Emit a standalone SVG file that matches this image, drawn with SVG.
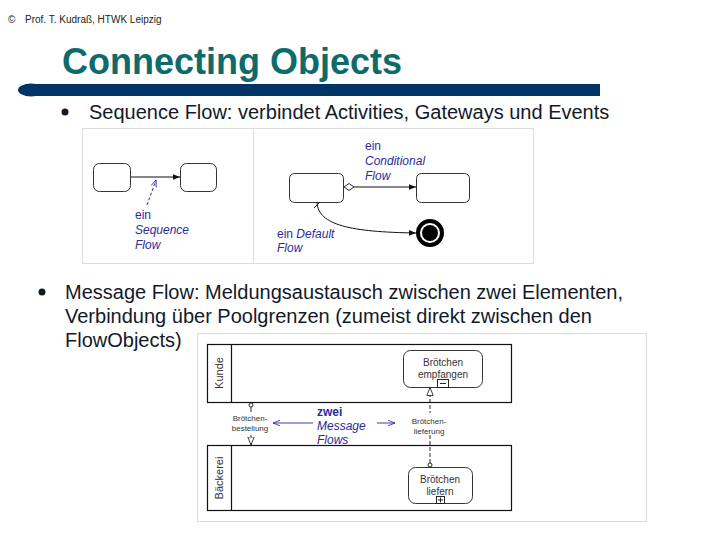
<svg xmlns="http://www.w3.org/2000/svg" width="720" height="540" viewBox="0 0 720 540">
<defs>
<style>
text{font-family:"Liberation Sans",Arial,sans-serif}
.hdr{font-size:10px;fill:#222}
.title{font-size:36px;font-weight:bold;fill:#0e6b6b}
.body{font-size:20px;fill:#111a2a}
.blue{fill:#2b2b9a;font-size:12px}
.it{font-style:italic}
.task{fill:#fff;stroke:#333;stroke-width:1}
.frame{fill:#fff;stroke:#dcdcdc;stroke-width:1}
.pool{fill:none;stroke:#111;stroke-width:1.2}
.small{font-size:8px;fill:#333;text-anchor:middle}
.tt{font-size:10px;fill:#333;text-anchor:middle}
</style>
<marker id="solid" viewBox="0 0 10 10" refX="10" refY="5" markerWidth="7" markerHeight="7" orient="auto" markerUnits="userSpaceOnUse"><path d="M0,1 L10,5 L0,9 z" fill="#111"/></marker>
<marker id="bluehead" viewBox="0 0 10 10" refX="10" refY="5" markerWidth="7" markerHeight="7" orient="auto" markerUnits="userSpaceOnUse"><path d="M0,1 L10,5 L0,9" fill="none" stroke="#2b2b9a" stroke-width="1.2"/></marker>
<marker id="open" viewBox="0 0 10 10" refX="10" refY="5" markerWidth="8" markerHeight="8" orient="auto" markerUnits="userSpaceOnUse"><path d="M0,1 L10,5 L0,9 z" fill="#fff" stroke="#111" stroke-width="1"/></marker>
</defs>
<rect width="720" height="540" fill="#fff"/>

<g id="header">
<text class="hdr" x="8" y="23">©</text>
<text class="hdr" x="25" y="23">Prof. T. Kudraß, HTWK Leipzig</text>
</g>
<g id="title">
<text class="title" x="62" y="74">Connecting Objects</text>
<ellipse cx="31" cy="90" rx="13" ry="6.5" fill="#003366"/>
<rect x="32" y="84" width="568" height="12" fill="#003366"/>
</g>

<g id="bullet1">
<circle cx="65" cy="112" r="3.5" fill="#111a2a"/>
<text class="body" x="89" y="119">Sequence Flow: verbindet Activities, Gateways und Events</text>
</g>

<g id="figure1">
<rect class="frame" x="82.5" y="128.5" width="451" height="135"/>
<line x1="253.5" y1="128.5" x2="253.5" y2="263.5" stroke="#dcdcdc"/>
<g id="sf-task1"><rect class="task" x="93.5" y="163.5" width="37" height="28" rx="6"/></g>
<g id="sf-task2"><rect class="task" x="180.5" y="163.5" width="36" height="28" rx="6"/></g>
<g id="cf-task1"><rect class="task" x="289.5" y="173.5" width="54" height="29" rx="5"/></g>
<g id="cf-task2"><rect class="task" x="416.5" y="173.5" width="53" height="29" rx="5"/></g>
<g id="end-event">
<circle cx="430" cy="233" r="12" fill="#fff" stroke="#000" stroke-width="4"/>
<circle cx="430" cy="233" r="8" fill="#000"/>
</g>
<g id="connectors1">
<line x1="131" y1="177" x2="180" y2="177" stroke="#111" stroke-width="1" marker-end="url(#solid)"/>
<line x1="147" y1="205" x2="156" y2="180" stroke="#2b2b9a" stroke-width="1" stroke-dasharray="3,2" marker-end="url(#bluehead)"/>
<path d="M344,187 l5,-3.5 l5,3.5 l-5,3.5 z" fill="#fff" stroke="#111" stroke-width="0.9"/>
<line x1="354" y1="187" x2="416" y2="187" stroke="#111" stroke-width="1" marker-end="url(#solid)"/>
<path d="M317,203 C319,225 350,232 416,233" fill="none" stroke="#111" stroke-width="1" marker-end="url(#solid)"/>
<line x1="314" y1="208" x2="320" y2="202" stroke="#111" stroke-width="1"/>
</g>
<g id="labels1">
<text class="blue" x="135" y="219">ein</text>
<text class="blue it" x="135" y="234">Sequence</text>
<text class="blue it" x="135" y="249">Flow</text>
<text class="blue" x="365" y="150">ein</text>
<text class="blue it" x="365" y="165">Conditional</text>
<text class="blue it" x="365" y="180">Flow</text>
<text class="blue" x="277" y="238">ein <tspan class="it">Default</tspan></text>
<text class="blue it" x="277" y="252">Flow</text>
</g>
</g>

<g id="bullet2">
<circle cx="42" cy="292" r="3.5" fill="#111a2a"/>
<text class="body" x="65" y="299">Message Flow: Meldungsaustausch zwischen zwei Elementen,</text>
<text class="body" x="65" y="323">Verbindung über Poolgrenzen (zumeist direkt zwischen den</text>
<text class="body" x="65" y="347">FlowObjects)</text>
</g>

<g id="figure2">
<rect class="frame" x="197.5" y="333.5" width="449" height="188"/>
<g id="pool-kunde">
<rect class="pool" x="207.5" y="344.5" width="304" height="58"/>
<line x1="231.5" y1="344.5" x2="231.5" y2="402.5" stroke="#111" stroke-width="1.2"/>
<text transform="translate(223,373) rotate(-90)" font-size="11" fill="#333" text-anchor="middle">Kunde</text>
</g>
<g id="pool-baeckerei">
<rect class="pool" x="207.5" y="445.5" width="304" height="65"/>
<line x1="231.5" y1="445.5" x2="231.5" y2="510.5" stroke="#111" stroke-width="1.2"/>
<text transform="translate(223,478) rotate(-90)" font-size="11" fill="#333" text-anchor="middle">Bäckerei</text>
</g>
<g id="task-empfangen">
<rect class="task" x="403.5" y="350.5" width="79" height="37" rx="7"/>
<text class="tt" x="443" y="366">Brötchen</text>
<text class="tt" x="443" y="378">empfangen</text>
<rect x="437.5" y="379.5" width="11" height="8" fill="#fff" stroke="#111" stroke-width="0.9"/>
<line x1="440" y1="383.5" x2="446" y2="383.5" stroke="#111" stroke-width="0.9"/>
</g>
<g id="task-liefern">
<rect class="task" x="408.5" y="467.5" width="64" height="36" rx="7"/>
<text class="tt" x="440" y="483">Brötchen</text>
<text class="tt" x="440" y="495">liefern</text>
<rect x="436.5" y="496.5" width="8" height="7" fill="#fff" stroke="#111" stroke-width="0.9"/>
<path d="M438,500 h5 M440.5,497.5 v5" stroke="#111" stroke-width="0.9"/>
</g>
<g id="connectors2">
<circle cx="251" cy="405" r="2" fill="#fff" stroke="#111" stroke-width="0.9"/>
<line x1="251" y1="407" x2="251" y2="412" stroke="#111" stroke-width="0.9"/>
<line x1="251" y1="435" x2="251" y2="445" stroke="#111" stroke-width="0.9" marker-end="url(#open)"/>
<circle cx="430" cy="465" r="2" fill="#fff" stroke="#111" stroke-width="0.9"/>
<line x1="430" y1="463" x2="430" y2="387.5" stroke="#111" stroke-width="0.9" stroke-dasharray="4,2" marker-end="url(#open)"/>
<rect x="411" y="413" width="36" height="22" fill="#fff"/>
<line x1="313" y1="423" x2="273" y2="423" stroke="#2b2b9a" stroke-width="0.9" marker-end="url(#bluehead)"/>
<line x1="377" y1="423" x2="395" y2="423" stroke="#2b2b9a" stroke-width="0.9" marker-end="url(#bluehead)"/>
</g>
<g id="labels2">
<text class="small" x="250" y="421">Brötchen-</text>
<text class="small" x="250" y="431">bestellung</text>
<text class="small" x="429" y="424">Brötchen-</text>
<text class="small" x="429" y="434">lieferung</text>
<text fill="#2b2b9a" font-size="12" font-weight="bold" x="317" y="416">zwei</text>
<text fill="#2b2b9a" font-size="12" font-style="italic" x="317" y="430">Message</text>
<text fill="#2b2b9a" font-size="12" font-style="italic" x="317" y="444">Flows</text>
</g>
</g>
</svg>
